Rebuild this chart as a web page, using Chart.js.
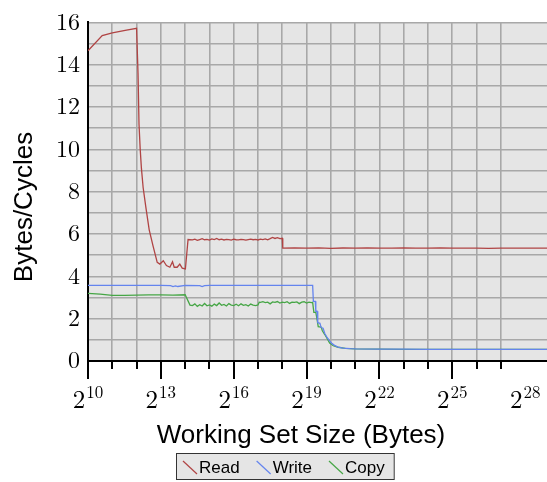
<!DOCTYPE html>
<html>
<head>
<meta charset="utf-8">
<script src="https://cdn.jsdelivr.net/npm/chart.js@4"></script>
<style>
  html, body { margin: 0; padding: 0; background: #fff; }
  canvas { display: block; }
  #aquece { position: absolute; left: 0; top: 0; visibility: hidden; }
</style>
</head>
<body>
<div id="aquece"><span style="font:24px 'Latin Modern Roman'">2 16</span><span style="font:26px 'Liberation Sans'">Read</span></div>
<canvas id="grafico" width="547" height="482"></canvas>
<script>
// x = log2(working set size in bytes), y = bytes per cycle
const readX = [10, 10.585, 11, 11.585, 12, 12.06, 12.1, 12.15, 12.2, 12.27, 12.38, 12.52, 12.68, 12.85, 12.96,
  13.1, 13.23, 13.37, 13.48, 13.55, 13.67, 13.78, 13.88, 14.01, 14.12,
  14.3, 14.4, 14.5, 14.6, 14.7, 14.8, 14.9, 15.0, 15.1, 15.2, 15.3, 15.4, 15.5, 15.6, 15.7, 15.8, 15.9,
  16.0, 16.1, 16.2, 16.3, 16.4, 16.5, 16.6, 16.7, 16.8, 16.9, 17.0, 17.1, 17.2, 17.3, 17.4, 17.5, 17.6,
  17.7, 17.8, 17.9, 18.0,
  18.02, 18.5, 19, 19.5, 20, 20.5, 21, 21.5, 22, 22.5, 23, 23.5, 24, 24.5, 25, 25.5, 26, 26.5, 27, 27.5, 28, 28.5, 28.9];
const readY = [14.66, 15.38, 15.5, 15.64, 15.72, 13.6, 11.2, 10.0, 9.1, 8.2, 7.28, 6.2, 5.43, 4.66, 4.58,
  4.74, 4.51, 4.43, 4.69, 4.43, 4.43, 4.58, 4.39, 4.35, 5.74,
  5.72, 5.76, 5.70, 5.74, 5.78, 5.73, 5.75, 5.71, 5.77, 5.74, 5.79, 5.73, 5.76, 5.72, 5.75, 5.74, 5.71,
  5.76, 5.73, 5.72, 5.75, 5.74, 5.71, 5.74, 5.76, 5.73, 5.75, 5.72, 5.76, 5.74, 5.77, 5.73, 5.78, 5.84,
  5.79, 5.83, 5.78, 5.80,
  5.33, 5.34, 5.33, 5.35, 5.32, 5.34, 5.33, 5.34, 5.33, 5.33, 5.34, 5.33, 5.33, 5.34, 5.33, 5.33, 5.33, 5.32, 5.33, 5.33, 5.33, 5.33, 5.33];

const writeX = [10, 11, 12, 13, 13.4, 13.5, 13.6, 13.7, 14, 14.6, 14.7, 14.8, 15, 16, 17, 18, 19, 19.25,
  19.28, 19.36, 19.38, 19.43, 19.46, 19.55, 19.6, 19.68, 19.75, 19.85, 19.95, 20.05, 20.15, 20.3, 20.5,
  20.8, 21.05, 22, 23, 24, 25, 26, 27, 28, 28.9];
const writeY = [3.57, 3.57, 3.57, 3.57, 3.56, 3.52, 3.55, 3.52, 3.57, 3.56, 3.52, 3.56, 3.57, 3.57, 3.57, 3.57, 3.57, 3.57,
  2.82, 2.82, 2.35, 2.35, 1.81, 1.78, 1.58, 1.55, 1.3, 1.1, 0.95, 0.82, 0.74, 0.66, 0.61,
  0.58, 0.57, 0.56, 0.56, 0.55, 0.55, 0.55, 0.55, 0.55, 0.55];

const copyX = [10, 10.5, 11, 11.5, 12, 12.5, 13, 13.5, 14.0, 14.2,
  14.3, 14.4, 14.5, 14.6, 14.7, 14.8, 14.9, 15.0, 15.1, 15.2, 15.3, 15.4, 15.5, 15.6, 15.7, 15.8, 15.9,
  16.0, 16.1, 16.2, 16.3, 16.4, 16.5, 16.6, 16.7, 16.8, 16.9, 17.0, 17.05,
  17.1, 17.2, 17.3, 17.4, 17.5, 17.6, 17.7, 17.8, 17.9, 18.0, 18.1, 18.2, 18.3, 18.4, 18.5, 18.6, 18.7,
  18.8, 18.9, 19.0, 19.1, 19.2,
  19.25, 19.3, 19.38, 19.42, 19.48, 19.6, 19.65, 19.75, 19.85, 19.95, 20.1, 20.3, 20.6, 21,
  22, 23, 24, 25, 26, 27, 28, 28.9];
const copyY = [3.2, 3.16, 3.1, 3.1, 3.11, 3.12, 3.12, 3.11, 3.13, 2.64,
  2.62, 2.70, 2.58, 2.66, 2.60, 2.72, 2.61, 2.65, 2.59, 2.69, 2.62, 2.74, 2.63, 2.67, 2.60, 2.71, 2.64,
  2.62, 2.68, 2.61, 2.70, 2.63, 2.66, 2.60, 2.69, 2.64, 2.62, 2.65, 2.78,
  2.77, 2.80, 2.76, 2.78, 2.70, 2.79, 2.77, 2.81, 2.74, 2.78, 2.76, 2.80, 2.72, 2.78, 2.77, 2.79, 2.71,
  2.78, 2.80, 2.74, 2.78, 2.76,
  2.77, 2.3, 2.3, 2.05, 1.62, 1.6, 1.43, 1.25, 1.05, 0.85, 0.72, 0.65, 0.6, 0.57,
  0.56, 0.55, 0.55, 0.55, 0.55, 0.55, 0.55, 0.55];

const seriesNames = ["Read", "Write", "Copy"];
const seriesColors = ["#b04444", "#6484ee", "#46a646"];
const majorExps = [10, 13, 16, 19, 22, 25, 28];
const xTitle = "Working Set Size (Bytes)";
const yTitle = "Bytes/Cycles";

const fonteNum = "'Latin Modern Roman', 'Liberation Serif', serif";
const fonteTxt = "'Liberation Sans', Arial, sans-serif";

function pontos(xs, ys) {
  return xs.map((x, i) => ({ x: x, y: ys[i] }));
}

const enfeites = {
  id: "enfeites",
  beforeDraw(chart) {
    const { ctx, chartArea: a } = chart;
    ctx.save();
    ctx.fillStyle = "#e5e5e5";
    ctx.fillRect(a.left, a.top, a.right - a.left, a.bottom - a.top);
    ctx.restore();
  },
  afterDraw(chart) {
    const { ctx, chartArea: a } = chart;
    const sx = chart.scales.x;
    ctx.save();

    // tick marks under the x axis, long ones on the labelled powers
    ctx.strokeStyle = "#000";
    ctx.lineWidth = 2;
    sx.ticks.forEach((t) => {
      if (!Number.isInteger(t.value)) return;
      const px = Math.round(sx.getPixelForValue(t.value));
      const len = majorExps.includes(t.value) ? 18 : 8;
      ctx.beginPath();
      ctx.moveTo(px, a.bottom);
      ctx.lineTo(px, a.bottom + len);
      ctx.stroke();
    });

    // 2^n labels
    ctx.fillStyle = "#000";
    ctx.textBaseline = "alphabetic";
    ctx.textAlign = "left";
    majorExps.forEach((e) => {
      const px = sx.getPixelForValue(e);
      ctx.font = "25px " + fonteNum;
      const w2 = ctx.measureText("2").width;
      ctx.font = "17px " + fonteNum;
      const we = ctx.measureText(String(e)).width;
      const x0 = px - (w2 + we + 1) / 2;
      ctx.font = "25px " + fonteNum;
      ctx.fillText("2", x0, a.bottom + 47);
      ctx.font = "17px " + fonteNum;
      ctx.fillText(String(e), x0 + w2 + 1, a.bottom + 37);
    });

    // axis titles
    ctx.font = "26px " + fonteTxt;
    ctx.textAlign = "center";
    ctx.fillText(xTitle, 301, 443);
    ctx.save();
    ctx.translate(25, 207);
    ctx.rotate(-Math.PI / 2);
    ctx.textBaseline = "middle";
    ctx.fillText(yTitle, 0, 0);
    ctx.restore();

    // legend box
    ctx.font = "17px " + fonteTxt;
    ctx.textAlign = "left";
    ctx.textBaseline = "alphabetic";
    let x = 183;
    const itens = [];
    seriesNames.forEach((n, i) => {
      const w = ctx.measureText(n).width;
      itens.push({ n: n, c: seriesColors[i], x: x, w: w });
      x += 16 + w + 17;
    });
    const boxL = 176, boxR = x - 17 + 9;
    ctx.fillStyle = "#e5e5e5";
    ctx.fillRect(boxL, 453.5, boxR - boxL, 26);
    ctx.strokeStyle = "#333";
    ctx.lineWidth = 1;
    ctx.strokeRect(boxL + 0.5, 453.5, boxR - boxL, 26);
    itens.forEach((it) => {
      ctx.strokeStyle = it.c;
      ctx.lineWidth = 1.2;
      ctx.beginPath();
      ctx.moveTo(it.x, 461);
      ctx.lineTo(it.x + 14, 474);
      ctx.stroke();
      ctx.fillStyle = "#000";
      ctx.fillText(it.n, it.x + 16, 473);
    });
    ctx.restore();
  }
};

function desenha() {
  new Chart(document.getElementById("grafico"), {
    type: "line",
    data: {
      datasets: [
        { label: seriesNames[0], data: pontos(readX, readY) },
        { label: seriesNames[1], data: pontos(writeX, writeY) },
        { label: seriesNames[2], data: pontos(copyX, copyY) }
      ].map((d, i) => Object.assign(d, {
        borderColor: seriesColors[i],
        borderWidth: 1.3,
        pointRadius: 0,
        tension: 0,
        fill: false
      }))
    },
    options: {
      responsive: false,
      animation: false,
      devicePixelRatio: 1,
      layout: { padding: { top: 15, left: 0, right: 0, bottom: 0 } },
      plugins: { legend: { display: false }, tooltip: { enabled: false } },
      scales: {
        x: {
          type: "linear",
          min: 10,
          max: 28.9,
          ticks: { display: false, stepSize: 1 },
          grid: {
            color: (c) => (c.tick && Number.isInteger(c.tick.value) ? "#a8a8a8" : "rgba(0,0,0,0)"),
            lineWidth: 1.6,
            drawTicks: false
          },
          border: { color: "#000", width: 2 },
          afterFit: (s) => { s.height = 121; }
        },
        y: {
          min: 0,
          max: 16,
          ticks: {
            stepSize: 1,
            autoSkip: false,
            padding: 8,
            color: "#000",
            font: { family: fonteNum, size: 24 },
            callback: (v) => (v % 2 === 0 ? v : "")
          },
          grid: { color: "#a8a8a8", lineWidth: 1.6, drawTicks: false },
          border: { color: "#000", width: 2 },
          afterFit: (s) => { s.width = 88; }
        }
      }
    },
    plugins: [enfeites]
  });
}

Promise.all([
  document.fonts.load("24px 'Latin Modern Roman'"),
  document.fonts.load("26px 'Liberation Sans'")
]).then(desenha, desenha);
</script>
</body>
</html>
